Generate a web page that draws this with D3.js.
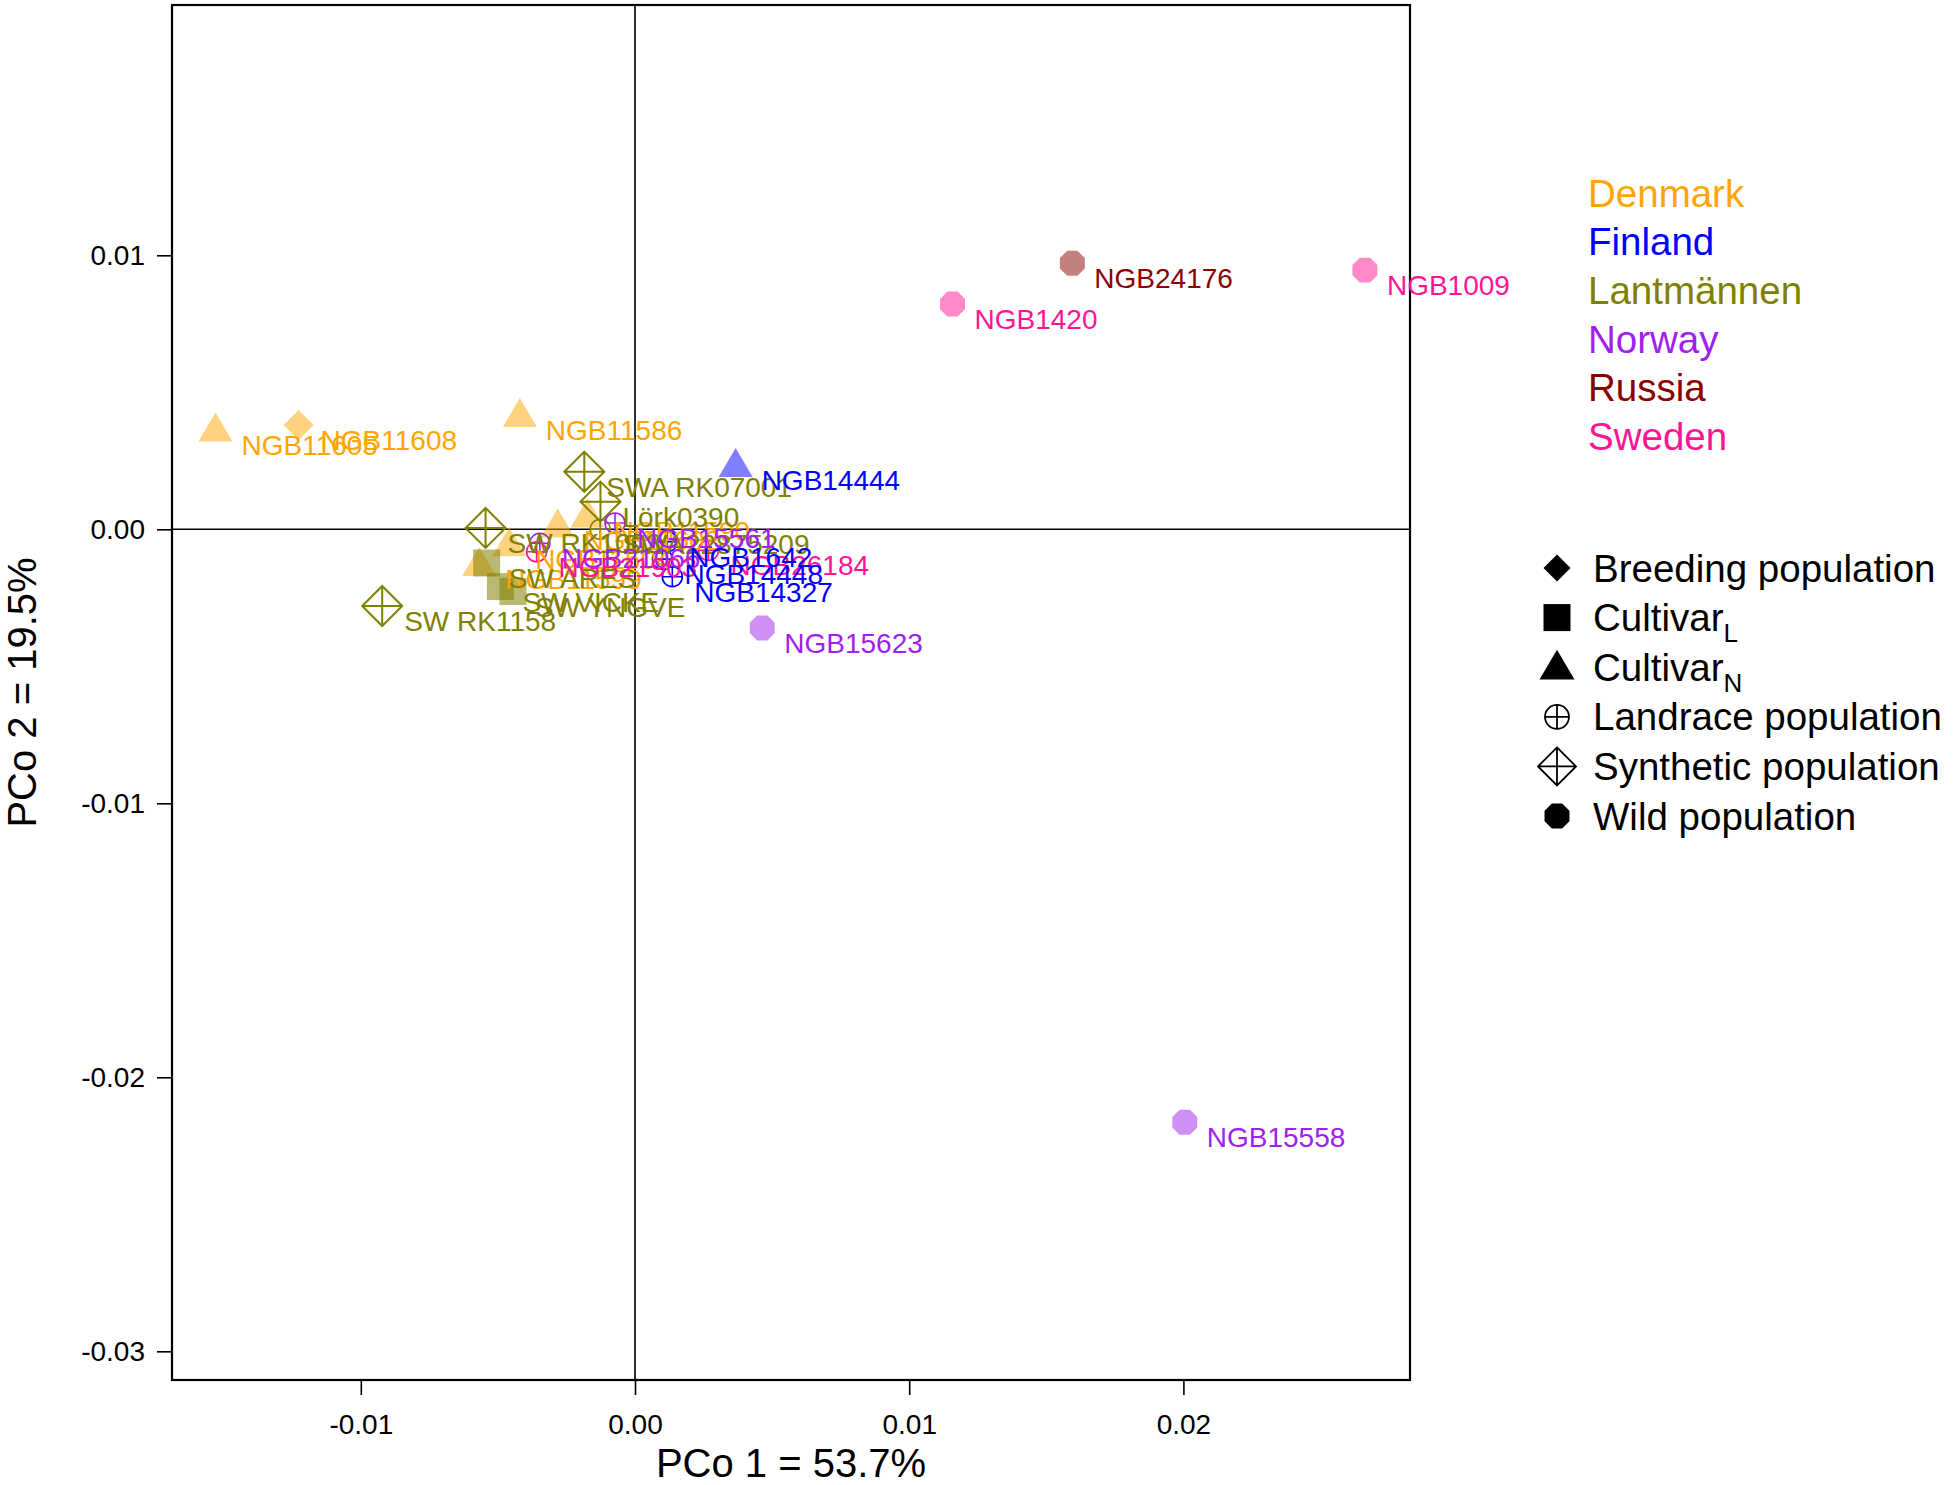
<!DOCTYPE html>
<html>
<head>
<meta charset="utf-8">
<script src="https://cdn.jsdelivr.net/npm/d3@7"></script>
<style>
  html, body { margin: 0; padding: 0; background: #fff; }
  svg { display: block; font-family: "Liberation Sans", Arial, sans-serif; }
</style>
</head>
<body>
<div id="chart"></div>
<script>
// ---- categories ----
const countries = ["Denmark", "Finland", "Lantmännen", "Norway", "Russia", "Sweden"];
const countryColors = ["#ffa500", "#0000ff", "#808000", "#a020f0", "#8b0000", "#ff1493"];
const typeKeys = ["breeding", "cultivarL", "cultivarN", "landrace", "synthetic", "wild"];
const typeNames = ["Breeding population", "Cultivar|L", "Cultivar|N", "Landrace population", "Synthetic population", "Wild population"];

// ---- axis ticks ----
const xTicks = [-0.01, 0, 0.01, 0.02];
const yTicks = [0.01, 0, -0.01, -0.02, -0.03];
const xTitle = "PCo 1 = 53.7%";
const yTitle = "PCo 2 = 19.5%";

// ---- accessions (PCo scores) ----
const labels = [
  "NGB11605", "NGB11608", "NGB11586", "NGB11602", "NGB11590", "NGB11604", "NGB11599",
  "SWA RK07001", "Lörk0390", "SW RK1003", "SW RK1158", "SW ARES", "SW VICKE", "SW YNGVE", "SWA22875209",
  "NGB15623", "NGB15558", "NGB15561", "NGB21066",
  "NGB1420", "NGB1009", "NGB21903", "NGB26184",
  "NGB14444", "NGB14327", "NGB14448", "NGB1642",
  "NGB24176"
];
const country = [
  "Denmark", "Denmark", "Denmark", "Denmark", "Denmark", "Denmark", "Denmark",
  "Lantmännen", "Lantmännen", "Lantmännen", "Lantmännen", "Lantmännen", "Lantmännen", "Lantmännen", "Lantmännen",
  "Norway", "Norway", "Norway", "Norway",
  "Sweden", "Sweden", "Sweden", "Sweden",
  "Finland", "Finland", "Finland", "Finland",
  "Russia"
];
const type = [
  "cultivarN", "breeding", "cultivarN", "cultivarN", "cultivarN", "cultivarN", "cultivarN",
  "synthetic", "synthetic", "synthetic", "synthetic", "cultivarL", "cultivarL", "cultivarL", "landrace",
  "wild", "wild", "landrace", "landrace",
  "wild", "wild", "landrace", "landrace",
  "cultivarN", "landrace", "landrace", "landrace",
  "wild"
];
const pco1 = [
  -0.01530, -0.01227, -0.00420, -0.00282, -0.00173, -0.00459, -0.00568,
  -0.00185, -0.00126, -0.00545, -0.00922, -0.00541, -0.00491, -0.00445, -0.00127,
  0.00464, 0.02005, -0.00073, -0.00347,
  0.01158, 0.02662, -0.00359, 0.00268,
  0.00367, 0.00136, 0.00100, 0.00118,
  0.01595
];
const pco2 = [
  0.00364, 0.00381, 0.00417, 0.00014, 0.00050, -0.00055, -0.00127,
  0.00210, 0.00101, 0.00005, -0.00280, -0.00123, -0.00209, -0.00227, 0.00000,
  -0.00360, -0.02164, 0.00023, -0.00051,
  0.00822, 0.00946, -0.00082, -0.00077,
  0.00235, -0.00173, -0.00109, -0.00045,
  0.00971
];

const W = 1953, H = 1485;
const plot = { left: 172, right: 1410, top: 5, bottom: 1380 };

const svg = d3.select("#chart").append("svg")
  .attr("width", W).attr("height", H)
  .attr("viewBox", `0 0 ${W} ${H}`);

const x = d3.scaleLinear().domain([-0.016886, 0.028264]).range([plot.left, plot.right]);
const y = d3.scaleLinear().domain([-0.031047, 0.019135]).range([plot.bottom, plot.top]);
const color = d3.scaleOrdinal().domain(countries).range(countryColors);

// R-style tick labels use a plain hyphen for minus
const fmt = d3.formatLocale({ decimal: ".", thousands: ",", grouping: [3], currency: ["", ""], minus: "-" }).format(".2f");

// marker outlines, centred on 0,0; s scales the size
function shapePath(kind, s = 1) {
  const p = d3.path();
  if (kind === "breeding") {
    const r = 15 * s;
    p.moveTo(0, -r); p.lineTo(r, 0); p.lineTo(0, r); p.lineTo(-r, 0); p.closePath();
  } else if (kind === "cultivarL") {
    const h = 13.5 * s;
    p.rect(-h, -h, 2 * h, 2 * h);
  } else if (kind === "cultivarN") {
    const hw = 17 * s;
    p.moveTo(0, -17 * s); p.lineTo(hw, 12 * s); p.lineTo(-hw, 12 * s); p.closePath();
  } else if (kind === "landrace") {
    const r = 10 * s;
    p.moveTo(r, 0); p.arc(0, 0, r, 0, 2 * Math.PI);
    p.moveTo(-r, 0); p.lineTo(r, 0); p.moveTo(0, -r); p.lineTo(0, r);
  } else if (kind === "synthetic") {
    const r = 20 * s;
    p.moveTo(0, -r); p.lineTo(r, 0); p.lineTo(0, r); p.lineTo(-r, 0); p.closePath();
    p.moveTo(-r, 0); p.lineTo(r, 0); p.moveTo(0, -r); p.lineTo(0, r);
  } else {
    const r = 13.5 * s;
    for (let k = 0; k < 8; k++) {
      const a = Math.PI / 8 + k * Math.PI / 4;
      k ? p.lineTo(r * Math.cos(a), r * Math.sin(a)) : p.moveTo(r * Math.cos(a), r * Math.sin(a));
    }
    p.closePath();
  }
  return p.toString();
}
const isOpen = k => k === "landrace" || k === "synthetic";

// ---- axes ----
svg.append("g")
  .attr("transform", `translate(0,${plot.bottom})`)
  .call(d3.axisBottom(x).tickValues(xTicks).tickFormat(fmt).tickSize(15).tickPadding(19).tickSizeOuter(0))
  .call(g => g.select(".domain").remove())
  .call(g => g.selectAll("line").attr("stroke", "#000").attr("stroke-width", 1.6))
  .call(g => g.selectAll("text").attr("font-size", 28).attr("fill", "#000")
    .attr("font-family", "Liberation Sans, Arial, sans-serif"));

svg.append("g")
  .attr("transform", `translate(${plot.left},0)`)
  .call(d3.axisLeft(y).tickValues(yTicks).tickFormat(fmt).tickSize(15).tickPadding(12).tickSizeOuter(0))
  .call(g => g.select(".domain").remove())
  .call(g => g.selectAll("line").attr("stroke", "#000").attr("stroke-width", 1.6))
  .call(g => g.selectAll("text").attr("font-size", 28).attr("fill", "#000")
    .attr("font-family", "Liberation Sans, Arial, sans-serif"));

// zero lines
svg.append("line")
  .attr("x1", x(0)).attr("x2", x(0)).attr("y1", plot.top).attr("y2", plot.bottom)
  .attr("stroke", "#000").attr("stroke-width", 1.6);
svg.append("line")
  .attr("x1", plot.left).attr("x2", plot.right).attr("y1", y(0)).attr("y2", y(0))
  .attr("stroke", "#000").attr("stroke-width", 1.6);

// frame
svg.append("rect")
  .attr("x", plot.left).attr("y", plot.top)
  .attr("width", plot.right - plot.left).attr("height", plot.bottom - plot.top)
  .attr("fill", "none").attr("stroke", "#000").attr("stroke-width", 2.2);

// axis titles
svg.append("text")
  .attr("x", (plot.left + plot.right) / 2).attr("y", 1477)
  .attr("text-anchor", "middle").attr("font-size", 40).text(xTitle);
svg.append("text")
  .attr("transform", `translate(36,${(plot.top + plot.bottom) / 2}) rotate(-90)`)
  .attr("text-anchor", "middle").attr("font-size", 40).text(yTitle);

// ---- points ----
const rows = labels.map((d, i) => ({ label: d, country: country[i], type: type[i], x: pco1[i], y: pco2[i] }));

svg.append("g").selectAll("path").data(rows).join("path")
  .attr("transform", d => `translate(${x(d.x)},${y(d.y)})`)
  .attr("d", d => shapePath(d.type))
  .attr("fill", d => isOpen(d.type) ? "none" : color(d.country))
  .attr("fill-opacity", d => d.country === "Lantmännen" ? 0.55 : 0.5)
  .attr("stroke", d => isOpen(d.type) ? color(d.country) : "none")
  .attr("stroke-width", d => d.type === "synthetic" ? 2 : 1.6);

svg.append("g").selectAll("text").data(rows).join("text")
  .attr("x", d => x(d.x) + (d.type === "cultivarN" ? 26 : 22))
  .attr("y", d => y(d.y) + 25)
  .attr("font-size", 28)
  .attr("fill", d => color(d.country))
  .text(d => d.label);

// ---- legends ----
const legC = svg.append("g");
countries.forEach((c, i) => {
  legC.append("text")
    .attr("x", 1588).attr("y", 193 + i * 48.7 + 13.5)
    .attr("font-size", 38.5).attr("fill", countryColors[i]).text(c);
});

const legT = svg.append("g");
const legScale = { breeding: 0.9, cultivarL: 1, cultivarN: 1.03, landrace: 1.2, synthetic: 0.95, wild: 1 };
typeKeys.forEach((k, i) => {
  const cy = 568 + i * 49.6;
  legT.append("path")
    .attr("transform", `translate(1557,${cy})`)
    .attr("d", shapePath(k, legScale[k]))
    .attr("fill", isOpen(k) ? "none" : "#000")
    .attr("stroke", isOpen(k) ? "#000" : "none")
    .attr("stroke-width", 1.8);
  const parts = typeNames[i].split("|");
  const t = legT.append("text")
    .attr("x", 1593).attr("y", cy + 13.5)
    .attr("font-size", 38.5).attr("fill", "#000");
  t.append("tspan").text(parts[0]);
  if (parts[1]) t.append("tspan").attr("font-size", 26).attr("dy", 11).text(parts[1]);
});
</script>
</body>
</html>
